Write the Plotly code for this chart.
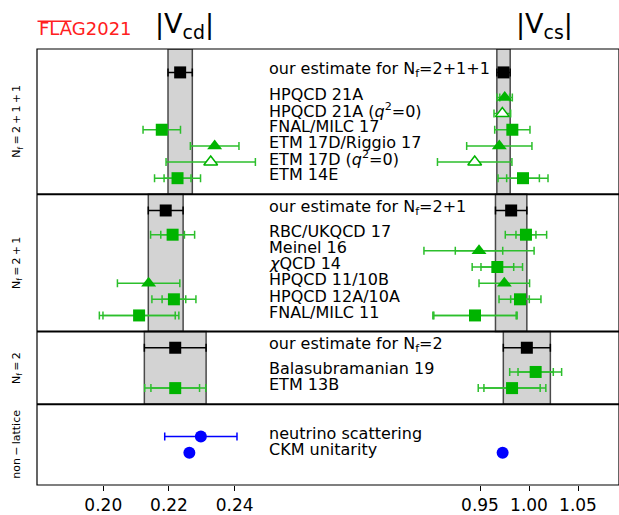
import plotly.graph_objects as go

# ---------------- data ----------------
section_names = ["N<sub>f</sub>\u2009=\u20092\u2009+\u20091\u2009+\u20091",
                 "N<sub>f</sub>\u2009=\u20092\u2009+\u20091",
                 "N<sub>f</sub>\u2009=\u20092",
                 "non\u2009\u2212\u2009lattice"]

est_labels = ["our estimate for N<sub>f</sub>=2+1+1",
              "our estimate for N<sub>f</sub>=2+1",
              "our estimate for N<sub>f</sub>=2"]
est_vcd = [0.2234, 0.2190, 0.2219]
est_vcd_err = [0.0037, 0.0053, 0.0094]
est_vcs = [0.9740, 0.9818, 0.9978]
est_vcs_err = [0.0068, 0.0160, 0.0240]

labels = ["HPQCD 21A", "HPQCD 21A (<i>q</i><sup>2</sup>=0)", "FNAL/MILC 17",
          "ETM 17D/Riggio 17", "ETM 17D (<i>q</i><sup>2</sup>=0)", "ETM 14E",
          "RBC/UKQCD 17", "Meinel 16", "<i>\u03c7</i>QCD 14", "HPQCD 11/10B",
          "HPQCD 12A/10A", "FNAL/MILC 11",
          "Balasubramanian 19", "ETM 13B",
          "neutrino scattering", "CKM unitarity"]
vcd = [None, None, 0.2178, 0.2339, 0.2327, 0.2226,
       0.2211, None, None, 0.2138, 0.2215, 0.2109,
       None, 0.2219,
       0.2297, 0.2262]
vcd_stat = [None, None, None, None, None, 0.0041,
            0.0036, None, None, None, 0.0036, 0.0110,
            None, 0.0074,
            None, None]
vcd_tot = [None, None, 0.0057, 0.0074, 0.0136, 0.0070,
           0.0067, None, None, 0.0095, 0.0067, 0.0121,
           None, 0.0093,
           0.0110, None]
vcs = [0.9752, 0.9728, 0.9830, 0.9697, 0.9446, 0.9939,
       0.9969, 0.9490, 0.9677, 0.9748, 0.9908, 0.9449,
       1.0068, 0.9827,
       None, 0.9731]
vcs_stat = [0.0050, None, None, None, None, 0.0167,
            0.0102, 0.0242, 0.0167, None, 0.0095, 0.0420,
            0.0180, 0.0287,
            None, None]
vcs_tot = [0.0078, 0.0085, 0.0180, 0.0333, 0.0380, 0.0255,
           0.0211, 0.0562, 0.0257, 0.0258, 0.0214, 0.0430,
           0.0265, 0.0345,
           None, None]
kind = ["tri", "tri_open", "sq", "tri", "tri_open", "sq",
        "sq", "tri", "sq", "tri", "sq", "sq",
        "sq", "sq",
        "circ", "circ"]

vcd_ticks = [0.20, 0.22, 0.24]
vcs_ticks = [0.95, 1.00, 1.05]

# ---------------- layout geometry ----------------
row_y = [3, 4, 5, 6, 7, 8, 11.5, 12.5, 13.5, 14.5, 15.5, 16.5, 20, 21, 24, 25]
est_y = [1.45, 10, 18.5]
sec_bounds = [0, 9, 17.5, 22, 27]

W, H = 619, 515
ML, MR, MT, MB = 37, 0, 49, 26
PW = W - ML - MR
split_px = 300
split = (split_px - ML) / PW
x1_range = [0.17982, 0.25988]
x2_range = [0.76633, 1.09184]

GREEN = "#00b400"
GREEN_BAR = "#2cbf2c"
BLUE = "#0000ff"
FONT = "DejaVu Sans"

fig = go.Figure()

# bands for estimates
shapes = []
for i in range(3):
    for ax, c, e in (("x", est_vcd[i], est_vcd_err[i]), ("x2", est_vcs[i], est_vcs_err[i])):
        shapes.append(dict(type="rect", xref=ax, yref="y", x0=c - e, x1=c + e,
                           y0=sec_bounds[i], y1=sec_bounds[i + 1],
                           fillcolor="#d3d3d3", line=dict(color="#4a4a4a", width=1.5),
                           layer="below"))
# section separators
for b in sec_bounds[1:-1]:
    shapes.append(dict(type="line", xref="paper", yref="y", x0=0, x1=1, y0=b, y1=b,
                       line=dict(color="black", width=2)))
# frame
shapes.append(dict(type="rect", xref="paper", yref="paper", x0=0, x1=1, y0=0, y1=1,
                   line=dict(color="black", width=1.2)))
# overline of FLAG logo
ph = H - MT - MB
shapes.append(dict(type="line", xref="paper", yref="paper",
                   x0=0.0008, x1=(71.5 - ML) / PW, y0=(H - MB - 21) / ph,
                   y1=(H - MB - 21) / ph,
                   line=dict(color="#ff2020", width=1.5)))

# estimate markers
for ax, vals, errs in (("x", est_vcd, est_vcd_err), ("x2", est_vcs, est_vcs_err)):
    fig.add_trace(go.Scatter(
        x=vals, y=est_y, xaxis=ax, yaxis="y", mode="markers",
        marker=dict(symbol="square", size=12, color="black"),
        error_x=dict(type="data", array=errs, color="black", thickness=1.5, width=4),
        showlegend=False, hoverinfo="skip"))

style = {
    "sq": dict(symbol="square", size=12, color=GREEN, line=dict(width=0)),
    "tri": dict(symbol="triangle-up", size=13, color=GREEN, line=dict(width=0)),
    "tri_open": dict(symbol="triangle-up", size=12, color="white",
                     line=dict(color=GREEN, width=1.5)),
    "circ": dict(symbol="circle", size=12, color=BLUE, line=dict(width=0)),
}

for ax, vals, stat, tot in (("x", vcd, vcd_stat, vcd_tot), ("x2", vcs, vcs_stat, vcs_tot)):
    for k in style:
        idx = [i for i in range(len(labels)) if vals[i] is not None and kind[i] == k]
        if not idx:
            continue
        bar_col = BLUE if k == "circ" else GREEN_BAR
        # statistical (inner) error bars
        sidx = [i for i in idx if stat[i] is not None]
        if sidx:
            fig.add_trace(go.Scatter(
                x=[vals[i] for i in sidx], y=[row_y[i] for i in sidx], xaxis=ax, yaxis="y",
                mode="markers", marker=dict(size=1, color="rgba(0,0,0,0)"),
                error_x=dict(type="data", array=[stat[i] for i in sidx], color=bar_col,
                             thickness=1.5, width=4),
                showlegend=False, hoverinfo="skip"))
        tidx = [i for i in idx if tot[i] is not None]
        nidx = [i for i in idx if tot[i] is None]
        if tidx:
            fig.add_trace(go.Scatter(
                x=[vals[i] for i in tidx], y=[row_y[i] for i in tidx], xaxis=ax, yaxis="y",
                mode="markers", marker=style[k],
                error_x=dict(type="data", array=[tot[i] for i in tidx], color=bar_col,
                             thickness=1.5, width=4),
                showlegend=False, hoverinfo="skip"))
        if nidx:
            fig.add_trace(go.Scatter(
                x=[vals[i] for i in nidx], y=[row_y[i] for i in nidx], xaxis=ax, yaxis="y",
                mode="markers", marker=style[k], showlegend=False, hoverinfo="skip"))

# text labels
annotations = []
lab_x = (267 - ML) / PW
for t, y in zip(est_labels, est_y):
    annotations.append(dict(text=t, x=lab_x, y=y - 0.2, xref="paper", yref="y",
                            xanchor="left", yanchor="middle", showarrow=False,
                            font=dict(size=16, color="black", family=FONT)))
for t, y in zip(labels, row_y):
    annotations.append(dict(text=t, x=lab_x, y=y - 0.2, xref="paper", yref="y",
                            xanchor="left", yanchor="middle", showarrow=False,
                            font=dict(size=16, color="black", family=FONT)))
for i, t in enumerate(section_names):
    annotations.append(dict(text=t, x=-20 / PW, y=(sec_bounds[i] + sec_bounds[i + 1]) / 2,
                            xref="paper", yref="y", textangle=-90, xanchor="center",
                            yanchor="middle", showarrow=False,
                            font=dict(size=11, color="black", family=FONT)))
annotations.append(dict(text="|V<sub>cd</sub>|", x=(184 - ML) / PW, y=(H - MB - 25) / ph,
                        xref="paper", yref="paper", xanchor="center", yanchor="middle",
                        showarrow=False, font=dict(size=27, color="black", family=FONT)))
annotations.append(dict(text="|V<sub>cs</sub>|", x=(544 - ML) / PW, y=(H - MB - 25) / ph,
                        xref="paper", yref="paper", xanchor="center", yanchor="middle",
                        showarrow=False, font=dict(size=27, color="black", family=FONT)))
annotations.append(dict(text="FLAG2021", x=0, y=(H - MB - 28) / ph,
                        xref="paper", yref="paper", xanchor="left", yanchor="middle",
                        showarrow=False, font=dict(size=18, color="#ff2020", family=FONT)))

axis_common = dict(showgrid=False, zeroline=False, showline=False, ticks="outside",
                   ticklen=5, tickwidth=1, tickcolor="black",
                   tickfont=dict(size=17, color="black", family=FONT))

fig.update_layout(
    width=W, height=H, margin=dict(l=ML, r=MR, t=MT, b=MB),
    plot_bgcolor="white", paper_bgcolor="white",
    font=dict(family=FONT),
    xaxis=dict(domain=[0, split], range=x1_range, tickvals=vcd_ticks,
               ticktext=["%.2f" % v for v in vcd_ticks], anchor="y", **axis_common),
    xaxis2=dict(domain=[split, 1], range=x2_range, tickvals=vcs_ticks,
                ticktext=["%.2f" % v for v in vcs_ticks], anchor="y", **axis_common),
    yaxis=dict(range=[sec_bounds[-1], sec_bounds[0]], showgrid=False, zeroline=False,
               showticklabels=False, ticks="", showline=False),
    shapes=shapes, annotations=annotations,
)

fig.write_html("out.html", config={"displayModeBar": False},
               post_script="document.body.style.margin='0';document.body.style.overflow='hidden';")
